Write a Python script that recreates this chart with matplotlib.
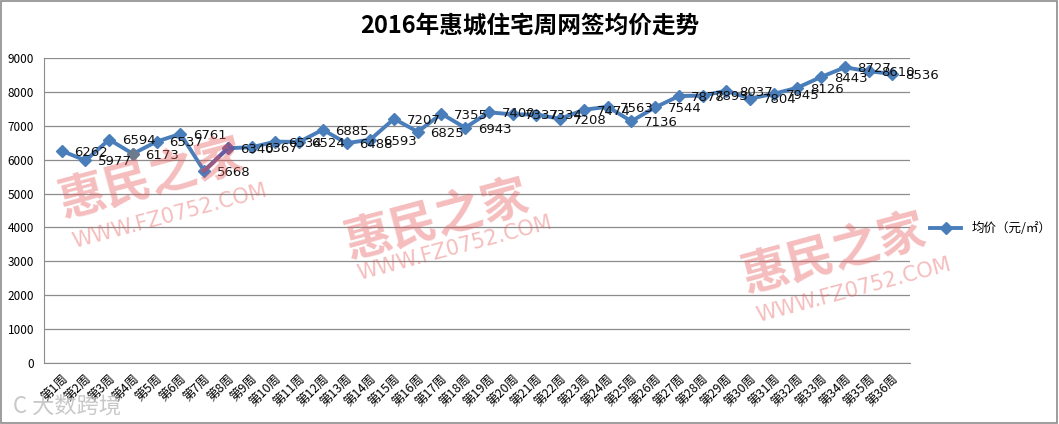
import matplotlib
matplotlib.use('Agg')
import matplotlib.pyplot as plt
import numpy as np

plt.rcParams['font.family'] = ['Noto Sans CJK SC', 'DejaVu Sans']

# week labels and average price (yuan / m2)
weeks = ['第%d周' % i for i in range(1, 37)]
prices = [6262, 5977, 6594, 6173, 6537, 6761, 5668, 6340, 6367, 6534,
          6524, 6885, 6488, 6593, 7207, 6825, 7355, 6943, 7400, 7337,
          7334, 7208, 7474, 7563, 7136, 7544, 7878, 7893, 8037, 7804,
          7945, 8126, 8443, 8727, 8610, 8536]
yticks = list(range(0, 10000, 1000))

blue = '#4a7ebb'

fig = plt.figure(figsize=(10.59, 4.24), dpi=100)
ax = fig.add_axes([0.0415, 0.144, 0.818, 0.719])

x = np.arange(len(weeks))
ax.plot(x, prices, color=blue, lw=2.8, marker='D', ms=6.5,
        mfc=blue, mec=blue, label='均价（元/㎡）', zorder=3)
# highlighted segment week 7 -> 8
ax.plot(x[6:8], prices[6:8], color='#6b5b9e', lw=2.8, zorder=4)
ax.plot(x[7], prices[7], marker='D', ms=6.5, color='#6b5b9e', zorder=5)
ax.plot(x[3], prices[3], marker='D', ms=6.5, color='#6c7a8c', zorder=5)

for xi, v in zip(x, prices):
    ax.annotate(str(v), (xi, v), xytext=(9, -1), textcoords='offset points',
                ha='left', va='center', fontsize=9.5, color='#111111',
                family=['DejaVu Sans'], zorder=6)

ax.set_xlim(-0.75, len(weeks) - 0.25)
ax.set_ylim(0, 9000)
ax.set_yticks(yticks)
ax.set_yticklabels([str(t) for t in yticks], fontsize=8.5)
ax.set_xticks(x)
ax.set_xticklabels(weeks, rotation=45, ha='right', rotation_mode='anchor',
                   fontsize=9)
ax.tick_params(axis='both', length=0, pad=7)
ax.yaxis.grid(True, color='#8c8c8c', lw=0.9)
ax.set_axisbelow(True)
for s in ['top', 'right']:
    ax.spines[s].set_visible(False)
ax.spines['left'].set_color('#8c8c8c')
ax.spines['bottom'].set_color('#8c8c8c')

leg = ax.legend(loc='center left', bbox_to_anchor=(1.01, 0.44), frameon=False,
                fontsize=9, handlelength=2.5)

fig.text(0.5, 0.94, '2016年惠城住宅周网签均价走势', ha='center', va='center',
         fontsize=17, fontweight='bold')

# watermarks
pink = '#e65a5a'
for (tx, ty, wx, wy) in [(0.05, 0.575, 0.066, 0.49), (0.32, 0.48, 0.335, 0.415),
                         (0.695, 0.40, 0.712, 0.315)]:
    fig.text(tx, ty, '惠民之家', fontsize=34, fontweight='bold', color=pink,
             alpha=0.4, rotation=15, ha='left', va='center')
    fig.text(wx, wy, 'WWW.FZ0752.COM', fontsize=15, color=pink, alpha=0.4,
             rotation=15, ha='left', va='center', family=['DejaVu Sans'])
fig.text(0.012, 0.04, 'C 大数跨境', fontsize=16, color='#bbbbbb', alpha=0.8,
         ha='left', va='center')

fig.patches.append(plt.Rectangle((0.001, 0.002), 0.997, 0.995, fill=False,
                                 ec='#8c8c8c', lw=1.2, transform=fig.transFigure))

fig.savefig('out.png', dpi=100)
